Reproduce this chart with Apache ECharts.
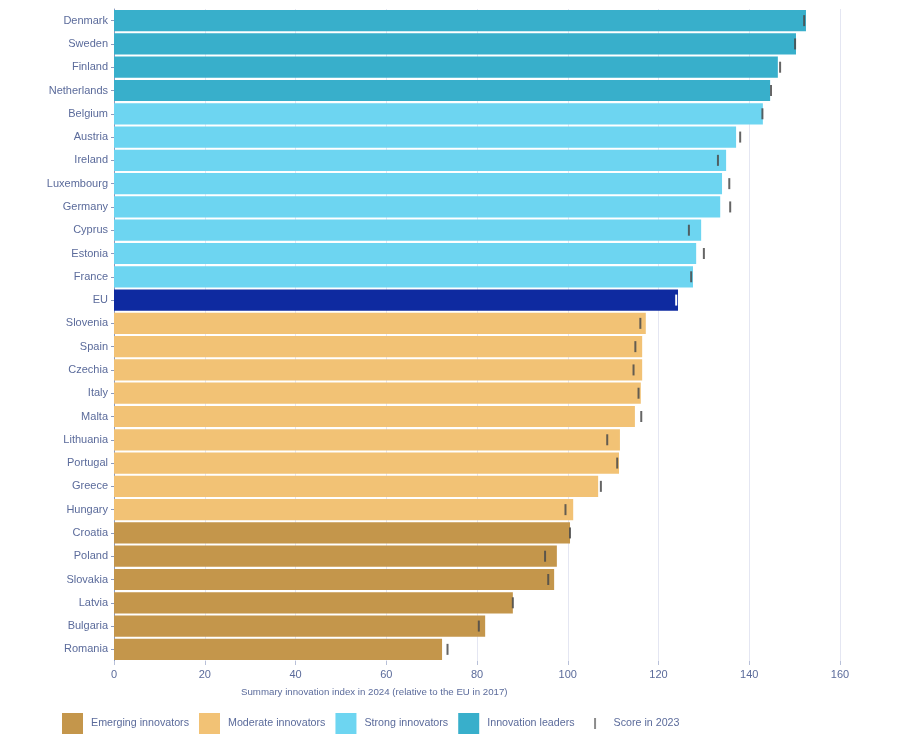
<!DOCTYPE html>
<html><head><meta charset="utf-8">
<script src="https://cdn.jsdelivr.net/npm/echarts@6/dist/echarts.min.js"></script>
<style>html,body{margin:0;padding:0;background:#fff}#c{width:897px;height:747px}</style>
</head><body><div id="c"></div>
<script>
const countries = ['Denmark','Sweden','Finland','Netherlands','Belgium','Austria','Ireland','Luxembourg','Germany','Cyprus','Estonia','France','EU','Slovenia','Spain','Czechia','Italy','Malta','Lithuania','Portugal','Greece','Hungary','Croatia','Poland','Slovakia','Latvia','Bulgaria','Romania'];
const groups = ['L','L','L','L','S','S','S','S','S','S','S','S','EU','M','M','M','M','M','M','M','M','M','E','E','E','E','E','E'];
const score2024 = [152.5,150.3,146.3,144.6,143.0,137.1,134.9,134.0,133.6,129.4,128.3,127.6,124.3,117.2,116.4,116.4,116.1,114.8,111.5,111.3,106.7,101.2,100.5,97.6,97.0,87.9,81.8,72.3];
const score2023 = [152.1,150.1,146.8,144.8,142.9,138.0,133.1,135.6,135.8,126.7,130.0,127.2,123.9,116.0,114.9,114.5,115.6,116.2,108.7,110.9,107.3,99.5,100.5,95.0,95.7,87.9,80.4,73.5];
const groupNames = {E:'Emerging innovators',M:'Moderate innovators',S:'Strong innovators',L:'Innovation leaders',EU:'EU'};
const groupColors = {E:'#c4964b',M:'#f2c275',S:'#6dd5f1',L:'#38afcb',EU:'#0e2aa0'};
const xTicks = [0,20,40,60,80,100,120,140,160];

const txt = '#5b6b9b';
const font = 'Liberation Sans, Arial, sans-serif';
function seriesFor(g){
  return {
    name: groupNames[g], type:'bar', stack:'s', barCategoryGap:'9%',
    itemStyle:{color:groupColors[g]},
    data: score2024.map((v,i)=> groups[i]===g ? v : '-'),
    emphasis:{disabled:true}
  };
}
const chart = echarts.init(document.getElementById('c'));
chart.setOption({
  animation:false,
  textStyle:{fontFamily:font},
  grid:{left:114,right:57,top:9,bottom:86},
  title:{text:'Summary innovation index in 2024 (relative to the EU in 2017)',left:236,top:682,
    textStyle:{fontSize:9.7,fontWeight:'normal',color:txt,fontFamily:font}},
  xAxis:{type:'value',min:xTicks[0],max:xTicks[xTicks.length-1],interval:20,
    axisLine:{show:false},axisTick:{show:true,length:4,lineStyle:{color:'#b8c0d8'}},
    axisLabel:{color:txt,fontSize:11,margin:8},
    splitLine:{lineStyle:{color:'#e4e6f2'}}},
  yAxis:{type:'category',data:countries,inverse:true,
    axisLine:{show:true,lineStyle:{color:'#8c9bbf'}},
    axisTick:{show:true,length:3,alignWithLabel:true,lineStyle:{color:'#8c9bbf'}},
    axisLabel:{color:txt,fontSize:11,margin:6}},
  legend:{left:57,top:708,itemWidth:21,itemHeight:21,itemGap:10,
    textStyle:{color:txt,fontSize:10.7,fontFamily:font,padding:[0,0,0,3]},
    data:[
      {name:'Emerging innovators',icon:'rect'},{name:'Moderate innovators',icon:'rect'},{name:'Strong innovators',icon:'rect'},{name:'Innovation leaders',icon:'rect'},
      {name:'Score in 2023',icon:'path://M0,0L0,0M9.5,5L11.5,5L11.5,16L9.5,16ZM21,21L21,21',itemStyle:{color:'#777'}}
    ]},
  series:[
    seriesFor('E'),seriesFor('M'),seriesFor('S'),seriesFor('L'),seriesFor('EU'),
    {name:'Score in 2023',type:'scatter',symbol:'rect',symbolSize:[2,11],z:5,
      itemStyle:{color:'#4a4a4a',opacity:0.85},
      data: score2023.map((v,i)=> groups[i]==='EU' ? {value:[v,countries[i]],itemStyle:{color:'#ffffff',opacity:1}} : [v,countries[i]])
    }
  ]
});
</script></body></html>
